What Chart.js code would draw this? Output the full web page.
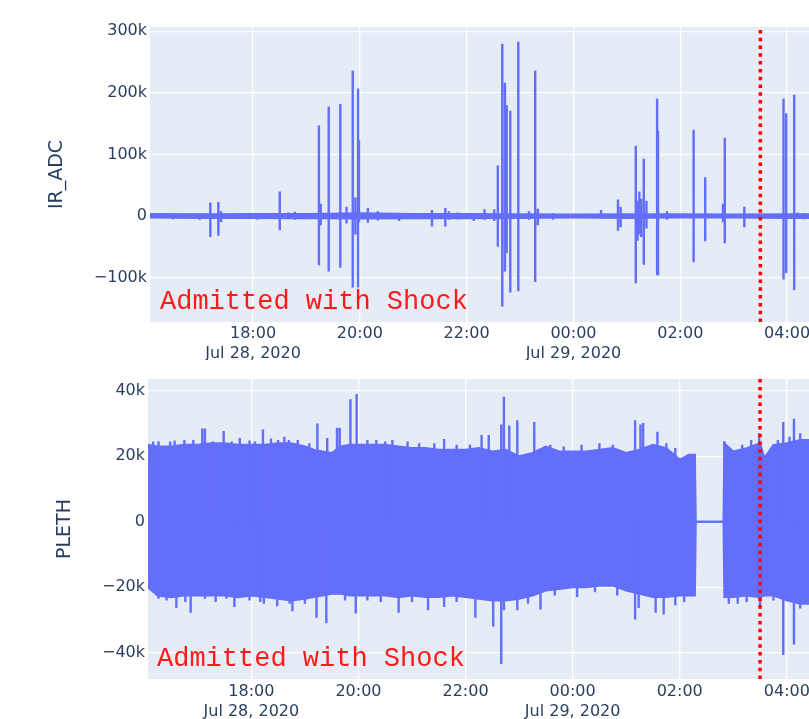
<!DOCTYPE html>
<html><head><meta charset="utf-8">
<script src="https://cdn.jsdelivr.net/npm/chart.js@4.4.1/dist/chart.umd.min.js"></script>
<style>
html,body{margin:0;padding:0;background:#fff;overflow:hidden;}
#wrap{position:relative;width:809px;height:719px;overflow:hidden;background:#fff;}
#c1{position:absolute;left:0;top:0;}
#c2{position:absolute;left:0;top:360px;}
</style></head><body>
<div id="wrap"><canvas id="c1" width="880" height="360"></canvas><canvas id="c2" width="880" height="359"></canvas></div>
<script>
// ---------- axis / label data ----------
const xTickValues = [18, 20, 22, 24, 26, 28];            // hours since Jul 28 00:00
const xTickLabels = [["18:00","Jul 28, 2020"],["20:00"],["22:00"],["00:00","Jul 29, 2020"],["02:00"],["04:00"]];
const shockTime = "03:30";
const annotationText = "Admitted with Shock";
const irTitle = "IR_ADC";
const plethTitle = "PLETH";
const irTickValues = [-100000, 0, 100000, 200000, 300000];
const irTickLabels = ["\u2212100k","0","100k","200k","300k"];
const plethTickValues = [-40000, -20000, 0, 20000, 40000];
const plethTickLabels = ["\u221240k","\u221220k","0","20k","40k"];

// ---------- IR_ADC ----------
const irBaseTimes = ["16:04","17:00","18:00","19:00","20:00","21:00","22:00","23:00","00:00","01:00","02:00","03:00","04:00","04:30"];
const irBaseHigh  = [3500,3000,3500,3500,4500,3500,3500,3000,2500,3000,3000,2500,3000,3000];
const irBaseLow   = [-2500,-3000,-3000,-3500,-4000,-3500,-3500,-3000,-2500,-3000,-2500,-2500,-3000,-3000];
const irSpikeTimes = ["16:30","17:00","17:12","17:21","17:24","18:05","18:30","18:40","18:47","19:14","19:16","19:25","19:38","19:45","19:52","19:55","19:58","19:59","20:09","20:20","20:44","21:21","21:36","21:40","21:50","22:08","22:20","22:31","22:35","22:40","22:43","22:45","22:49","22:58","23:10","23:17","23:20","23:37","00:31","00:50","00:53","01:10","01:12","01:14","01:16","01:19","01:22","01:34","01:35","01:45","02:15","02:28","02:48","02:50","03:12","03:56","03:59","04:08","04:12","04:18"];
const irSpikeHigh  = [5000,5000,22000,23000,8000,5000,40000,6000,7000,147000,20000,178000,182000,15000,236000,30000,207000,123000,13000,8000,4000,10000,13000,8000,6000,4000,11000,11000,82000,280000,217000,180000,171000,283000,8000,236000,12000,5000,10000,27000,15000,114000,25000,40000,28000,93000,25000,191000,138000,8000,140000,63000,20000,127000,15000,191000,167000,197000,6000,5000];
const irSpikeLow   = [-5000,-6000,-34000,-32000,-10000,-6000,-23000,-5000,-6000,-80000,-15000,-90000,-84000,-12000,-116000,-30000,-116000,-10000,-11000,-7000,-8000,-17000,-17000,-6000,-5000,-8000,-6000,-8000,-50000,-147000,-90000,-60000,-124000,-122000,-6000,-107000,-15000,-6000,-4000,-24000,-18000,-109000,-40000,-30000,-34000,-79000,-20000,-96000,-96000,-6000,-75000,-41000,-10000,-44000,-18000,-103000,-93000,-120000,-4000,-5000];

// ---------- PLETH ----------
const plethTimes = ["16:04","16:15","16:30","16:45","17:00","17:15","17:30","17:45","18:00","18:15","18:30","18:45","19:00","19:10","19:20","19:30","19:40","19:50","20:00","20:15","20:30","20:45","21:00","21:15","21:30","21:45","22:00","22:15","22:30","22:45","23:00","23:15","23:30","23:45","00:00","00:15","00:30","00:45","01:00","01:15","01:30","01:45","02:00","02:10","02:17","02:18","02:49","02:50","03:00","03:15","03:30","03:35","03:45","04:00","04:15","04:30"];
const plethHigh = [23500,23000,23000,23500,23500,24000,24000,23500,23500,23500,24000,24000,23000,22000,21500,21000,23000,23500,23500,23500,23500,23000,22500,22500,22000,22000,22000,22500,21500,22000,20000,21000,23000,21500,21500,21500,22000,22500,21000,22000,23500,22500,19000,20500,20500,0,0,24000,21500,22500,24000,19500,23500,24000,25000,25000];
const plethLow  = [-20000,-22500,-23000,-22500,-22500,-22500,-22500,-23000,-22500,-23000,-23500,-24000,-23500,-23000,-22500,-22000,-22000,-22500,-22500,-22500,-22500,-23000,-22500,-23000,-23000,-22500,-23000,-23500,-24000,-24000,-23500,-22500,-21000,-20500,-20000,-20000,-19500,-19500,-21000,-22000,-23000,-23000,-22500,-22500,-22500,0,0,-23000,-23000,-22500,-23000,-22500,-22500,-24000,-25000,-25000];
const plethPeakTimes = ["16:10","16:16","16:29","16:34","16:45","16:55","17:05","17:08","17:17","17:29","17:38","17:47","17:58","18:04","18:13","18:22","18:30","18:37","18:42","18:52","19:05","19:14","19:25","19:36","19:39","19:51","19:58","20:10","20:20","20:30","20:38","20:55","21:08","21:25","21:36","21:50","22:05","22:18","22:26","22:40","22:43","22:49","22:58","23:17","23:35","23:50","00:10","00:30","00:45","01:10","01:16","01:19","01:35","01:45","01:55","02:50","03:10","03:20","03:29","03:50","03:56","04:03","04:08","04:15"];
const plethPeakValues = [24500,24600,24500,24800,25000,25000,28500,28500,24500,27700,24500,25600,24800,24500,28200,25400,25000,26000,25000,25000,24000,30000,25600,28700,28700,37400,39000,25000,25000,24500,25000,24500,24000,24000,25300,23500,23500,26500,26500,29700,38200,29400,31000,30500,23500,23000,23500,24000,23500,31000,29700,30200,27500,24000,22500,24600,23500,25000,27000,25000,30500,26000,31500,27000];
const plethTroughTimes = ["16:16","16:25","16:36","16:46","16:52","17:08","17:20","17:32","17:41","17:58","18:10","18:14","18:29","18:43","18:46","19:00","19:13","19:24","19:45","19:57","20:10","20:25","20:45","21:00","21:18","21:36","21:50","22:11","22:31","22:40","22:43","22:58","23:10","23:24","23:40","00:05","00:25","00:50","01:10","01:14","01:33","01:42","01:55","02:05","02:55","03:05","03:15","03:30","03:45","03:56","04:08","04:15"];
const plethTroughValues = [-23500,-24000,-26300,-24500,-27800,-23500,-24500,-23500,-26000,-24000,-24500,-25000,-25800,-25000,-27300,-25000,-29300,-31000,-24000,-28000,-24000,-24500,-27800,-24500,-27000,-26000,-24500,-29300,-32000,-43400,-27000,-27000,-25000,-26800,-22500,-23000,-21500,-22500,-29800,-26300,-27800,-28300,-25500,-24500,-25000,-25000,-24500,-25800,-24000,-40700,-37500,-26500];

// ---------- helpers ----------
const BLUE = '#636efa';
const TXT = '#2a3f5f';
function toH(s){const p=s.split(':').map(Number);const h=p[0]<12?p[0]+24:p[0];return h+p[1]/60;}
function pts(times, vals){return times.map((t,i)=>({x:toH(t),y:vals[i]}));}
function pairs(times, hi, lo){const d=[];times.forEach((t,i)=>{const x=toH(t);d.push({x:x,y:hi[i]},{x:x,y:lo[i]},{x:x,y:null});});return d;}
function stems(times, vals){const d=[];times.forEach((t,i)=>{const x=toH(t);d.push({x:x,y:0},{x:x,y:vals[i]},{x:x,y:null});});return d;}

const bgPlugin={id:'bg',beforeDraw(c){const a=c.chartArea,ctx=c.ctx;ctx.save();ctx.fillStyle='#ffffff';ctx.fillRect(0,0,c.width,c.height);ctx.fillStyle='#e5ecf6';ctx.fillRect(a.left,a.top,a.right-a.left,a.bottom-a.top);ctx.restore();}};
const annPlugin={id:'ann',afterDatasetsDraw(c,args,opts){const ctx=c.ctx;ctx.save();ctx.font='27px "Courier New", Courier, "Nimbus Mono PS", "Nimbus Mono L", FreeMono, "Liberation Mono", monospace';ctx.fillStyle='#ff1a1a';ctx.textBaseline='alphabetic';ctx.fillText(annotationText,c.chartArea.left+opts.dx,c.chartArea.bottom-opts.dy);ctx.restore();}};

const X_MIN = 16.07, X_MAX = 29.74;

function makeOptions(cfg){
  return {
    responsive:false, animation:false, devicePixelRatio:1,
    layout:{padding:{left:cfg.padLeft, top:cfg.padTop, right:0, bottom:0}},
    plugins:{legend:{display:false}, tooltip:{enabled:false}, ann:{dx:cfg.annDx, dy:cfg.annDy}},
    elements:{point:{radius:0, hoverRadius:0}, line:{tension:0}},
    scales:{
      x:{type:'linear', min:X_MIN, max:X_MAX,
         afterBuildTicks:s=>{s.ticks=xTickValues.map(v=>({value:v}));},
         afterFit:s=>{s.height=cfg.xHeight;},
         ticks:{callback:v=>xTickLabels[xTickValues.indexOf(v)], padding:cfg.xPad, maxRotation:0, autoSkip:false,
                font:{family:'DejaVu Sans', size:16, lineHeight:1.3}, color:TXT},
         grid:{color:'#ffffff', lineWidth:1.3, drawTicks:false}, border:{display:false}},
      y:{type:'linear', min:cfg.yMin, max:cfg.yMax,
         afterBuildTicks:s=>{s.ticks=cfg.yTicks.map(v=>({value:v}));},
         afterFit:s=>{s.width=cfg.yWidth;},
         ticks:{callback:v=>cfg.yLabels[cfg.yTicks.indexOf(v)], padding:3, autoSkip:false,
                font:{family:'DejaVu Sans', size:16}, color:TXT},
         title:{display:true, text:cfg.title, color:TXT, font:{family:'DejaVu Sans', size:19}, padding:{top:6, bottom:0}},
         grid:{color:'#ffffff', lineWidth:1.3, drawTicks:false}, border:{display:false}}
    }
  };
}

function shockLine(yMin, yMax){
  return {data:[{x:toH(shockTime),y:yMin},{x:toH(shockTime),y:yMax}], borderColor:'#ff0000', borderWidth:3.5, borderDash:[3.5,4.3], fill:false, order:0};
}

// ---------- IR_ADC chart ----------
const IR_MIN = -172000, IR_MAX = 307000;
new Chart(document.getElementById('c1'), {
  type:'line',
  data:{datasets:[
    shockLine(IR_MIN, IR_MAX),
    {data:pts(irBaseTimes, irBaseHigh), borderColor:BLUE, backgroundColor:BLUE, borderWidth:2, fill:'+1', order:2},
    {data:pts(irBaseTimes, irBaseLow), borderColor:BLUE, borderWidth:2, fill:false, order:2},
    {data:pairs(irSpikeTimes, irSpikeHigh, irSpikeLow), borderColor:BLUE, borderWidth:2.4, fill:false, spanGaps:false, order:1}
  ]},
  options:makeOptions({padLeft:40, padTop:27, yWidth:110, xHeight:38, xPad:1, yMin:IR_MIN, yMax:IR_MAX,
                       yTicks:irTickValues, yLabels:irTickLabels, title:irTitle, annDx:10, annDy:13}),
  plugins:[bgPlugin, annPlugin]
});

// ---------- PLETH chart ----------
const PL_MIN = -48000, PL_MAX = 43600;
new Chart(document.getElementById('c2'), {
  type:'line',
  data:{datasets:[
    shockLine(PL_MIN, PL_MAX),
    {data:pts(plethTimes, plethHigh), borderColor:BLUE, backgroundColor:BLUE, borderWidth:2, fill:'+1', order:2},
    {data:pts(plethTimes, plethLow), borderColor:BLUE, borderWidth:2, fill:false, order:2},
    {data:stems(plethPeakTimes, plethPeakValues), borderColor:BLUE, borderWidth:2.4, fill:false, spanGaps:false, order:1},
    {data:stems(plethTroughTimes, plethTroughValues), borderColor:BLUE, borderWidth:2.4, fill:false, spanGaps:false, order:1}
  ]},
  options:makeOptions({padLeft:48, padTop:19, yWidth:100, xHeight:40, xPad:2, yMin:PL_MIN, yMax:PL_MAX,
                       yTicks:plethTickValues, yLabels:plethTickLabels, title:plethTitle, annDx:9, annDy:13}),
  plugins:[bgPlugin, annPlugin]
});
</script>
</body></html>
